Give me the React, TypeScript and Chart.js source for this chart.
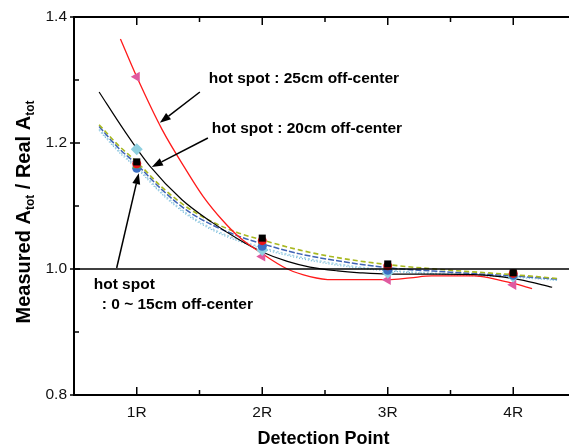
import React, { useEffect, useRef } from 'react';
import { Chart, registerables } from 'chart.js';

Chart.register(...registerables);

// ---------- data ----------
const detectionPoints = [1, 2, 3, 4];
const xTickValues = [1, 2, 3, 4];
const xTickLabels = ['1R', '2R', '3R', '4R'];
const xMinorTicks = [1.5, 2.5, 3.5];
const yTickValues = [0.8, 1.0, 1.2, 1.4];
const yTickLabels = ['0.8', '1.0', '1.2', '1.4'];
const yMinorTicks = [0.9, 1.1, 1.3];

// measured points
const spot0Square = [1.17, 1.049, 1.008, 0.994];
const spot5Circle = [1.167, 1.045, 1.005, 0.993];
const spot10Triangle = [1.164, 1.044, 1.004, 0.992];
const spot15Circle = [1.16, 1.036, 0.998, 0.99];
const spot20Diamond = [1.19, 1.03, 0.994, 0.988];
const spot25Triangle = [1.305, 1.02, 0.983, 0.975];

// fitted curves
const red25FitX = [0.87, 1.0, 1.2, 1.4, 1.53, 1.685, 1.82, 1.98, 2.2, 2.38, 2.56, 3.0, 3.18, 3.35, 3.69, 3.81, 4.0, 4.15];
const red25FitY = [1.365, 1.305, 1.222, 1.155, 1.115, 1.077, 1.05, 1.027, 1.0, 0.988, 0.983, 0.983, 0.986, 0.989, 0.989, 0.986, 0.977, 0.969];

const black20FitX = [0.7, 0.9, 1.11, 1.36, 1.6, 1.82, 2.0, 2.2, 2.38, 2.6, 2.78, 3.0, 3.4, 3.8, 4.05, 4.31];
const black20FitY = [1.281, 1.22, 1.162, 1.11, 1.074, 1.046, 1.027, 1.012, 1.003, 0.997, 0.994, 0.992, 0.992, 0.99, 0.983, 0.971];

const lowFitX = [0.7, 0.85, 1.0, 1.2, 1.4, 1.6, 1.8, 2.0, 2.3, 2.6, 3.0, 3.5, 4.0, 4.35];
const oliveFitY = [1.229, 1.197, 1.17, 1.13, 1.098, 1.075, 1.058, 1.046, 1.03, 1.018, 1.007, 0.998, 0.991, 0.985];
const blueFitY = [1.226, 1.193, 1.166, 1.126, 1.093, 1.07, 1.053, 1.04, 1.024, 1.013, 1.002, 0.995, 0.989, 0.984];
const lightFitY = [1.222, 1.189, 1.162, 1.121, 1.088, 1.064, 1.047, 1.034, 1.019, 1.008, 0.998, 0.992, 0.988, 0.983];
const skyFitY = [1.22, 1.187, 1.16, 1.119, 1.086, 1.062, 1.045, 1.032, 1.017, 1.006, 0.997, 0.991, 0.987, 0.982];

// annotations (data coordinates)
const noteTexts = ['hot spot : 25cm off-center', 'hot spot : 20cm off-center', 'hot spot', ': 0 ~ 15cm off-center'];
const noteX = [1.574, 1.598, 0.657, 0.721];
const noteY = [1.302, 1.223, 0.975, 0.944];
const arrowFromX = [1.503, 1.567, 0.84];
const arrowFromY = [1.281, 1.208, 1.0016];
const arrowToX = [1.184, 1.12, 1.016];
const arrowToY = [1.232, 1.162, 1.152];

const FONT = '"Liberation Sans", Arial, sans-serif';

const pts = (xs: number[], ys: number[]) => xs.map((x, i) => ({ x, y: ys[i] }));

const decorPlugin = {
  id: 'decor',
  afterDatasetsDraw(chart: any) {
    const ctx = chart.ctx as CanvasRenderingContext2D;
    const xs = chart.scales.x;
    const ys = chart.scales.y;
    const { left, right, top, bottom } = chart.chartArea;
    ctx.save();
    // reference line at 1.0
    ctx.strokeStyle = '#000';
    ctx.lineWidth = 1.5;
    ctx.beginPath();
    const y1 = ys.getPixelForValue(1.0);
    ctx.moveTo(left, y1);
    ctx.lineTo(right, y1);
    ctx.stroke();

    // frame: left, top, bottom
    ctx.lineWidth = 2;
    ctx.beginPath();
    ctx.moveTo(right, top);
    ctx.lineTo(left, top);
    ctx.lineTo(left, bottom);
    ctx.lineTo(right, bottom);
    ctx.stroke();

    // ticks
    ctx.lineWidth = 1.5;
    ctx.beginPath();
    xTickValues.forEach((v) => {
      const px = xs.getPixelForValue(v);
      ctx.moveTo(px, bottom);
      ctx.lineTo(px, bottom - 8);
      ctx.moveTo(px, top);
      ctx.lineTo(px, top + 8);
    });
    xMinorTicks.forEach((v) => {
      const px = xs.getPixelForValue(v);
      ctx.moveTo(px, bottom);
      ctx.lineTo(px, bottom - 5);
      ctx.moveTo(px, top);
      ctx.lineTo(px, top + 5);
    });
    yTickValues.forEach((v) => {
      const py = ys.getPixelForValue(v);
      ctx.moveTo(left - 4, py);
      ctx.lineTo(left + 6, py);
    });
    yMinorTicks.forEach((v) => {
      const py = ys.getPixelForValue(v);
      ctx.moveTo(left, py);
      ctx.lineTo(left + 5, py);
    });
    ctx.stroke();

    // tick labels
    ctx.fillStyle = '#111';
    ctx.font = `15.5px ${FONT}`;
    ctx.textAlign = 'center';
    ctx.textBaseline = 'middle';
    xTickValues.forEach((v, i) => {
      ctx.fillText(xTickLabels[i], xs.getPixelForValue(v), bottom + 18);
    });
    ctx.textAlign = 'right';
    yTickValues.forEach((v, i) => {
      ctx.fillText(yTickLabels[i], left - 7, ys.getPixelForValue(v));
    });

    // x title
    ctx.fillStyle = '#000';
    ctx.font = `bold 18px ${FONT}`;
    ctx.textAlign = 'center';
    ctx.fillText('Detection Point', (left + 569) / 2 + 2, bottom + 44);

    // y title with subscripts
    ctx.save();
    ctx.translate(23, 212);
    ctx.rotate(-Math.PI / 2);
    const parts: [string, boolean][] = [
      ['Measured A', false],
      ['tot', true],
      [' / Real A', false],
      ['tot', true],
    ];
    const big = `bold 20px ${FONT}`;
    const small = `bold 12px ${FONT}`;
    let total = 0;
    parts.forEach(([t, s]) => {
      ctx.font = s ? small : big;
      total += ctx.measureText(t).width;
    });
    let cx = -total / 2;
    ctx.textAlign = 'left';
    ctx.textBaseline = 'alphabetic';
    parts.forEach(([t, s]) => {
      ctx.font = s ? small : big;
      ctx.fillText(t, cx, s ? 11 : 7);
      cx += ctx.measureText(t).width;
    });
    ctx.restore();

    // annotations
    ctx.font = `bold 15.5px ${FONT}`;
    ctx.textAlign = 'left';
    ctx.textBaseline = 'middle';
    noteTexts.forEach((t, i) => {
      ctx.fillText(t, xs.getPixelForValue(noteX[i]), ys.getPixelForValue(noteY[i]));
    });

    // arrows
    ctx.lineWidth = 1.5;
    arrowFromX.forEach((fx, i) => {
      const x0 = xs.getPixelForValue(fx);
      const y0 = ys.getPixelForValue(arrowFromY[i]);
      const x1 = xs.getPixelForValue(arrowToX[i]);
      const y1a = ys.getPixelForValue(arrowToY[i]);
      const ang = Math.atan2(y1a - y0, x1 - x0);
      const hl = 11;
      const hw = 4;
      const bx = x1 - hl * Math.cos(ang);
      const by = y1a - hl * Math.sin(ang);
      ctx.beginPath();
      ctx.moveTo(x0, y0);
      ctx.lineTo(bx, by);
      ctx.stroke();
      ctx.beginPath();
      ctx.moveTo(x1, y1a);
      ctx.lineTo(bx + hw * Math.sin(ang), by - hw * Math.cos(ang));
      ctx.lineTo(bx - hw * Math.sin(ang), by + hw * Math.cos(ang));
      ctx.closePath();
      ctx.fill();
    });
    ctx.restore();
  },
};

export default function App() {
  const ref = useRef<HTMLCanvasElement | null>(null);
  useEffect(() => {
    if (!ref.current) return;
    const lineDs = (label: string, xs: number[], ys: number[], color: string, width: number, dash: number[]) => ({
      type: 'line' as const,
      label,
      data: pts(xs, ys),
      borderColor: color,
      backgroundColor: color,
      borderWidth: width,
      borderDash: dash,
      pointRadius: 0,
      showLine: true,
      cubicInterpolationMode: 'monotone',
      fill: false,
    });
    const markDs = (label: string, ys: number[], color: string, style: string, radius: number, rotation = 0) => ({
      type: 'scatter' as const,
      label,
      data: pts(detectionPoints, ys),
      borderColor: color,
      backgroundColor: color,
      pointStyle: style,
      pointRadius: radius,
      pointRotation: rotation,
      borderWidth: 0,
      showLine: false,
    });
    const chart = new Chart(ref.current, {
      type: 'scatter',
      data: {
        datasets: [
          markDs('0cm', spot0Square, '#000000', 'rect', 5),
          markDs('5cm', spot5Circle, '#e8141a', 'circle', 4.5),
          markDs('10cm', spot10Triangle, '#7cb518', 'triangle', 5),
          markDs('15cm', spot15Circle, '#3a6fc4', 'circle', 4.5),
          markDs('20cm', spot20Diamond, '#8fd0e0', 'rectRot', 6),
          markDs('25cm', spot25Triangle, '#e05aa0', 'triangle', 6, 270),
          lineDs('fit 25cm', red25FitX, red25FitY, '#ff1a1a', 1.3, []),
          lineDs('fit 20cm', black20FitX, black20FitY, '#000000', 1.2, []),
          lineDs('fit olive', lowFitX, oliveFitY, '#a8b820', 1.6, [5, 3]),
          lineDs('fit blue', lowFitX, blueFitY, '#3f63b5', 1.5, [6, 2]),
          lineDs('fit light', lowFitX, lightFitY, '#a6d4e6', 1.6, [2, 2]),
          lineDs('fit sky', lowFitX, skyFitY, '#6fb6d8', 1.3, [1, 2]),
        ] as any,
      },
      options: {
        animation: false,
        responsive: false,
        devicePixelRatio: 1,
        layout: { padding: { left: 74, right: 14, top: 17, bottom: 52 } },
        plugins: { legend: { display: false }, tooltip: { enabled: false } },
        scales: {
          x: { type: 'linear', min: 0.5, max: 4.5, display: false },
          y: { type: 'linear', min: 0.8, max: 1.4, display: false },
        },
      },
      plugins: [decorPlugin],
    });
    return () => chart.destroy();
  }, []);
  return (
    <div style={{ position: 'fixed', left: 0, top: 0, width: 569, height: 447, overflow: 'hidden', background: '#fff' }}>
      <canvas ref={ref} width={590} height={447} style={{ display: 'block' }} />
    </div>
  );
}
